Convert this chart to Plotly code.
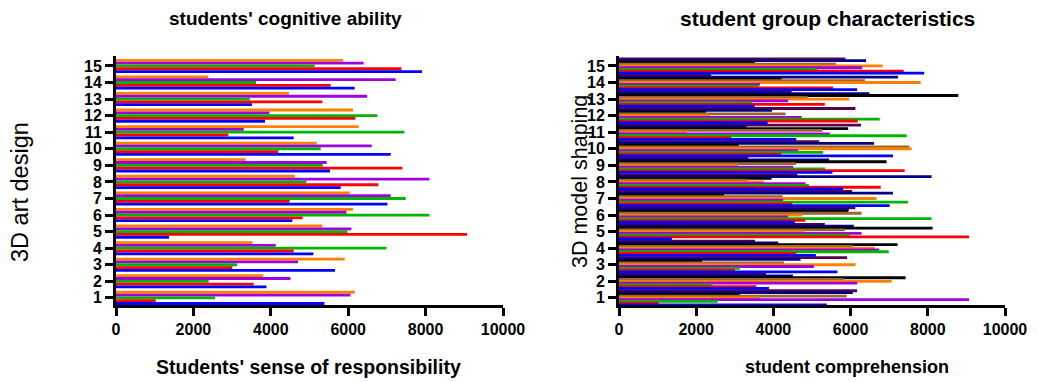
import plotly.graph_objects as go

categories = list(range(1, 16))
tick_labels = [str(c) for c in categories]
x_ticks = [0, 2000, 4000, 6000, 8000, 10000]

# Left panel series (category 1..15)
s_orange = [6168, 3808, 5910, 3524, 5333, 6124, 6039, 4618, 3351, 5186, 6271, 6124, 4471, 2388, 5866]
s_purple = [6057, 4506, 4703, 4127, 6083, 5953, 7098, 8098, 5444, 6607, 3300, 3963, 6486, 7227, 6400]
s_green = [2558, 2395, 3127, 6987, 5979, 8098, 7486, 4920, 5341, 5290, 7452, 6754, 3455, 3618, 5135]
s_red = [1026, 3558, 3007, 4592, 9070, 4824, 4488, 6780, 7400, 4196, 2904, 6186, 5333, 5548, 7375]
s_blue = [5385, 3886, 5659, 5101, 1370, 4558, 7013, 5806, 5530, 7098, 4592, 3850, 3514, 6168, 7907]

# Right panel extra series
s_black = [3129, 7425, 2152, 7218, 8125, 5937, 2715, 3951, 6932, 3103, 5937, 2248, 8790, 4210, 3518]
s_brown = [5896, 5834, 4278, 6067, 5852, 6284, 4236, 3329, 4581, 7519, 5273, 4314, 4884, 6370, 5618]
s_orange2 = [3648, 7062, 6128, 6630, 4815, 4745, 6673, 3752, 3085, 7580, 1747, 2352, 5964, 7815, 6829]
s_purple2 = [9067, 6171, 5048, 6741, 6284, 4382, 4252, 4833, 4511, 4641, 5463, 4729, 4382, 3650, 6300]

C_OR = "#FF8000"
C_PU = "#A000E0"
C_GR = "#00B400"
C_RD = "#FF0000"
C_BL = "#0000FF"
C_DP = "#55004F"
C_NV = "#000080"
C_BK = "#000000"
C_BR = "#996633"

# page has an 8px body margin: figure coordinates are shifted by it
OFF = 8
W, H = 1037 - OFF, 382 - OFF
MT = 56 - OFF
MB = H - (305 - OFF)
PH = H - MT - MB

fig = go.Figure()

left = [(s_orange, C_OR), (s_purple, C_PU), (s_green, C_GR), (s_red, C_RD), (s_blue, C_BL)]
wl = 0.17
for i, (vals, col) in enumerate(left):
    c = 0.34 - i * 0.17
    fig.add_trace(go.Bar(x=vals, y=categories, orientation="h", marker=dict(color=col, line=dict(width=0)),
                         width=wl, offset=c - wl / 2, xaxis="x", yaxis="y", showlegend=False))

right = [(s_orange, C_DP), (s_purple, C_NV), (s_black, C_BK), (s_brown, C_BR), (s_orange2, C_OR),
         (s_purple2, C_PU), (s_green, C_GR), (s_red, C_RD), (s_blue, C_BL)]
wr = 0.17
for i, (vals, col) in enumerate(right):
    c = 0.43 - i * 0.1075
    fig.add_trace(go.Bar(x=vals, y=categories, orientation="h", marker=dict(color=col, line=dict(width=0)),
                         width=wr, offset=c - wr / 2, xaxis="x2", yaxis="y2", showlegend=False))

FONT = "Liberation Sans, Arial, sans-serif"
axis_common = dict(showline=True, linewidth=3, linecolor="black", ticks="outside", ticklen=8, tickwidth=3,
                   tickcolor="black", showgrid=False, zeroline=False, automargin=False,
                   tickfont=dict(family=FONT, size=16, color="black", weight="bold"))

xa = dict(range=[0, 10000], tickvals=x_ticks, ticktext=[str(t) for t in x_ticks], **axis_common)
ya = dict(range=[0.57, 15.6], tickvals=categories, ticktext=tick_labels, **axis_common)


def px_x(p):
    return (p - OFF) / W


def px_y(p):
    return (H - (p - OFF) - MB) / PH


def ann(text, px, py, size, bold=True, angle=0):
    return dict(text=text, x=px_x(px), y=px_y(py), xref="paper", yref="paper",
                xanchor="center", yanchor="middle", textangle=angle, showarrow=False,
                font=dict(family=FONT, size=size, color="black", weight="bold" if bold else "normal"))


fig.update_layout(
    width=W, height=H,
    margin=dict(l=0, r=0, t=MT, b=MB, autoexpand=False),
    paper_bgcolor="white", plot_bgcolor="white",
    barmode="overlay",
    xaxis=dict(domain=[px_x(116), px_x(503)], anchor="y", **xa),
    yaxis=dict(domain=[0, 1], anchor="x", **ya),
    xaxis2=dict(domain=[px_x(619), px_x(1005)], anchor="y2", **xa),
    yaxis2=dict(domain=[0, 1], anchor="x2", **ya),
    annotations=[
        ann("students' cognitive ability", 285, 19, 19),
        ann("student group characteristics", 827, 19, 21),
        ann("Students' sense of responsibility", 308, 367, 19.5),
        ann("student comprehension", 847, 367, 18),
        ann("3D art design", 20, 192, 23.5, bold=False, angle=-90),
        ann("3D model shaping", 580, 182, 21.5, bold=False, angle=-90),
    ],
)

fig.write_html("out.html")
